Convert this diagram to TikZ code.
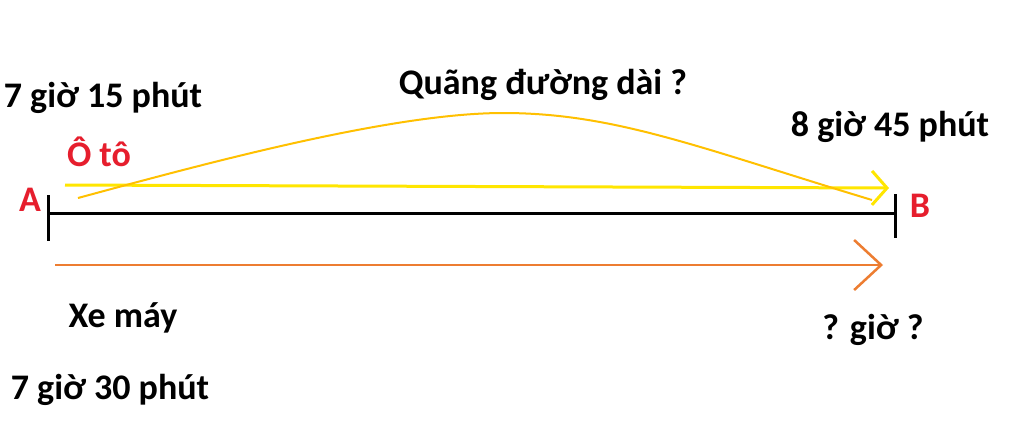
\documentclass[tikz,border=0pt]{standalone}
\usepackage{fontspec}
\setmainfont{Carlito}
\usetikzlibrary{positioning,arrows.meta}
\definecolor{myred}{RGB}{230,30,45}
\definecolor{myyellow}{RGB}{255,230,0}
\definecolor{mygold}{RGB}{255,192,0}
\definecolor{myorange}{RGB}{237,125,49}
\begin{document}
\begin{tikzpicture}[
    x=1pt,y=-1pt,
    lbl/.style={font={\fontsize{36}{40}\selectfont\bfseries}, inner sep=0pt},
    redlbl/.style={lbl, text=myred},
    tick/.style={line width=3pt},
    road/.style={line width=3pt},
    carpath/.style={draw=myyellow, line width=3pt, -{Straight Barb[length=15pt,width=34pt,line width=3pt]}},
    bikepath/.style={draw=myorange, line width=2.5pt, -{Straight Barb[length=27pt,width=50pt,line width=2.5pt]}},
    distcurve/.style={draw=mygold, line width=2pt},]

    \fill[white] (0,0) rectangle (1024,445);
    \useasboundingbox (0,0) rectangle (1024,445);

    % points of the road
    \coordinate (A) at (48,213);
    \coordinate (B) at (895,213);
    \draw[road] (A) -- (B);
    \draw[tick] (48,195) -- (48,241);
    \draw[tick] (895,194) -- (895,238);
    \node[redlbl] (labA) at (30,200) {A};
    \node[redlbl] (labB) at (920,206) {B};

    % car
    \coordinate (carS) at (65,185);
    \coordinate (carE) at (889,188);
    \draw[carpath] (carS) -- (carE);

    % distance
    \coordinate (curS) at (78,198);
    \coordinate (curTop) at (503,113);
    \coordinate (curE) at (872,200);
    \draw[distcurve] (curS) .. controls (200,165) and (390,113) .. (curTop)
                            .. controls (615,113) and (700,148) .. (curE);

    % motorbike
    \coordinate (bikeS) at (55,265);
    \coordinate (bikeE) at (883,265);
    \draw[bikepath] (bikeS) -- (bikeE);

    \node[lbl] (t1) at (103,98) {7 giờ 15 phút};
    \node[redlbl] (car) at (99,152) {Ô tô};
    \node[lbl] (dist) at (543,85) {Quãng đường dài ?};
    \node[lbl] (t2) at (890,127) {8 giờ 45 phút};
    \node[lbl] (bike) at (123,318) {Xe máy};
    \node[lbl] (t3) at (873,330) {? giờ ?};
    \node[lbl] (t4) at (110,390) {7 giờ 30 phút};

\end{tikzpicture}
\end{document}
